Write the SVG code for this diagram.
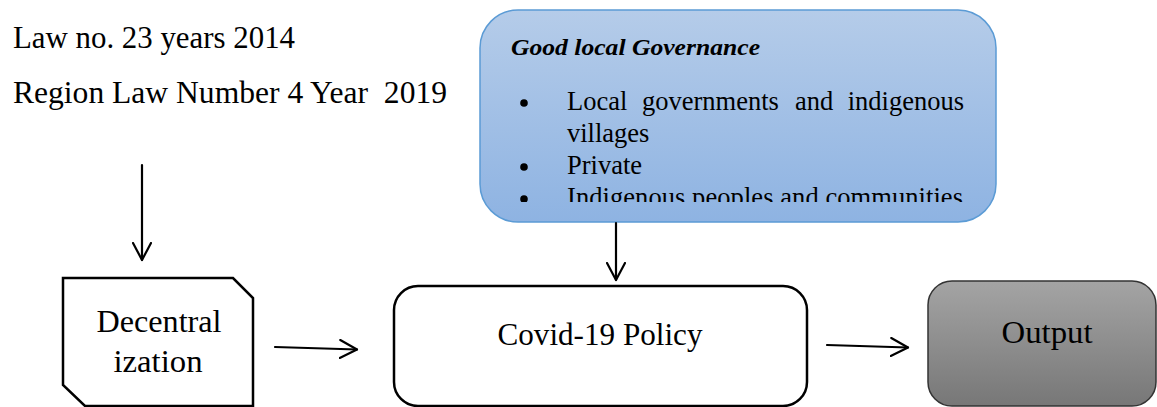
<svg xmlns="http://www.w3.org/2000/svg" width="1157" height="407" viewBox="0 0 1157 407">
  <style>
    text { font-family: "Liberation Serif", "Times New Roman", serif; fill: #000; }
    .big { font-size: 31.5px; }
    .item { font-size: 26.5px; }
    .head { font-size: 24px; font-weight: bold; font-style: italic; }
    .conn { stroke: #000; stroke-width: 2.2; fill: none; stroke-linecap: round; stroke-linejoin: round; }
    .box { stroke: #000; stroke-width: 2.5; }
  </style>
  <defs>
    <linearGradient id="blueGrad" x1="0" y1="0" x2="0" y2="1">
      <stop offset="0" stop-color="#b5cce9"/>
      <stop offset="1" stop-color="#8eb3e2"/>
    </linearGradient>
    <linearGradient id="greyGrad" x1="0" y1="0" x2="0" y2="1">
      <stop offset="0" stop-color="#a4a4a4"/>
      <stop offset="1" stop-color="#777777"/>
    </linearGradient>
    <clipPath id="textClip">
      <rect x="480" y="10" width="516" height="192"/>
    </clipPath>
    <marker id="open" viewBox="0 0 20 20" refX="18" refY="10" markerWidth="20" markerHeight="20" markerUnits="userSpaceOnUse" orient="auto">
      <path d="M1,1 L18,10 L1,19" fill="none" stroke="#000" stroke-width="2.2" stroke-linecap="round" stroke-linejoin="round"/>
    </marker>
  </defs>

  <g id="laws">
    <text class="big" x="13" y="48" textLength="282" lengthAdjust="spacingAndGlyphs">Law no. 23 years 2014</text>
    <text class="big" x="13" y="103" xml:space="preserve" textLength="434" lengthAdjust="spacingAndGlyphs">Region Law Number 4 Year  2019</text>
  </g>

  <g id="governance">
    <rect x="480" y="10" width="516" height="212" rx="38" ry="38" fill="url(#blueGrad)" stroke="#5b9bd5" stroke-width="1.5"/>
    <g clip-path="url(#textClip)">
      <text class="head" x="511" y="55" textLength="249" lengthAdjust="spacingAndGlyphs">Good local Governance</text>
      <circle cx="524" cy="103" r="3.8" fill="#000"/>
      <text class="item" x="567" y="110">Local</text>
      <text class="item" x="642" y="110">governments</text>
      <text class="item" x="795" y="110">and</text>
      <text class="item" x="964" y="110" text-anchor="end">indigenous</text>
      <text class="item" x="567" y="142">villages</text>
      <circle cx="524" cy="167" r="3.8" fill="#000"/>
      <text class="item" x="567" y="174">Private</text>
      <circle cx="524" cy="199" r="3.8" fill="#000"/>
      <text class="item" x="567" y="206" textLength="396" lengthAdjust="spacing">Indigenous peoples and communities</text>
    </g>
  </g>

  <g id="decentralization">
    <polygon class="box" points="63,278 233,278 253,298 253,406 85,406 63,385" fill="#fff"/>
    <text class="big" x="159" y="332" text-anchor="middle" textLength="125" lengthAdjust="spacingAndGlyphs">Decentral</text>
    <text class="big" x="158" y="372" text-anchor="middle" textLength="89" lengthAdjust="spacingAndGlyphs">ization</text>
  </g>

  <g id="covid-policy">
    <rect class="box" x="394" y="286" width="413" height="120" rx="24" ry="24" fill="#fff"/>
    <text class="big" x="600" y="345" text-anchor="middle" textLength="205" lengthAdjust="spacingAndGlyphs">Covid-19 Policy</text>
  </g>

  <g id="output">
    <rect x="928" y="281" width="228" height="125" rx="24" ry="24" fill="url(#greyGrad)" stroke="#333" stroke-width="1.5"/>
    <text class="big" x="1047" y="343" text-anchor="middle" textLength="91" lengthAdjust="spacingAndGlyphs">Output</text>
  </g>

  <g id="connectors">
    <line class="conn" x1="142" y1="165" x2="142" y2="260" marker-end="url(#open)"/>
    <line class="conn" x1="616" y1="223" x2="616" y2="280" marker-end="url(#open)"/>
    <line class="conn" x1="275" y1="347" x2="357" y2="349.5" marker-end="url(#open)"/>
    <line class="conn" x1="827" y1="345" x2="908" y2="347.5" marker-end="url(#open)"/>
  </g>
</svg>
